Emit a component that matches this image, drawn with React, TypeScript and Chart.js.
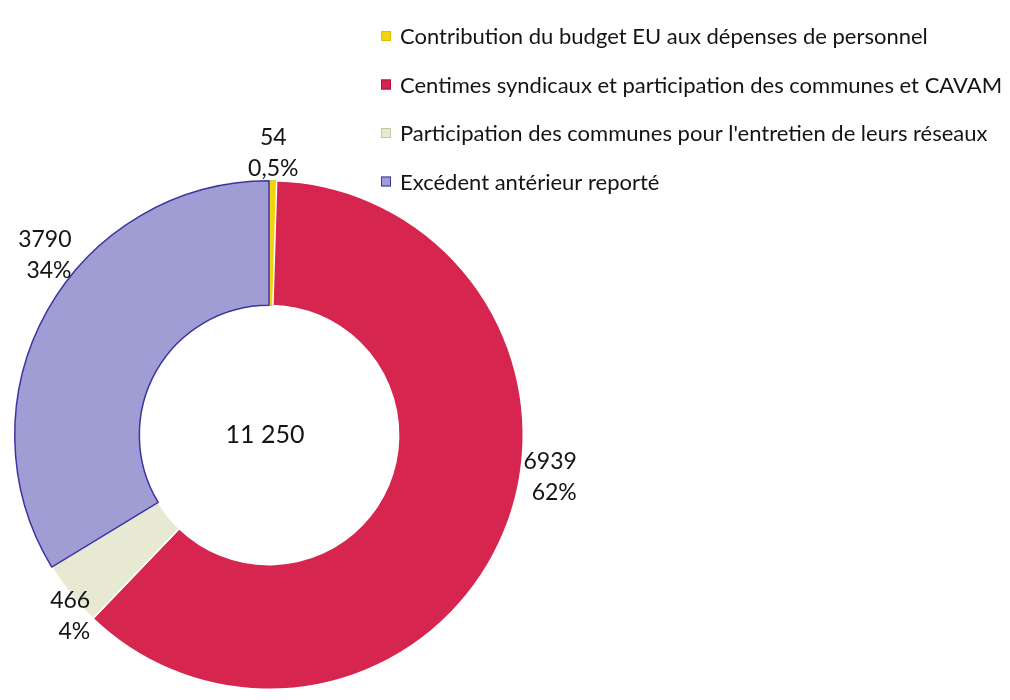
import React, { useEffect, useRef } from "react";
import { Chart, registerables } from "chart.js";

Chart.register(...registerables);

const categories = [
  "Contribution du budget EU aux dépenses de personnel",
  "Centimes syndicaux et participation des communes et CAVAM",
  "Participation des communes pour l'entretien de leurs réseaux",
  "Excédent antérieur reporté",
];
const values = [54, 6939, 466, 3790];
const percentLabels = ["0,5%", "62%", "4%", "34%"];
const totalLabel = "11 250";

const fillColors = ["#f3d40c", "#d6264f", "#e7e9d3", "#a09dd4"];
const borderColors = ["#e2bd00", "#ffffff", "#ffffff", "#3d33a3"];

// label placement: angle (deg, clockwise from top), distance beyond outer radius, alignment
const labelPlacement = [
  { angle: null as number | null, extra: 28, align: "center" },
  { angle: 98.5, extra: 30, align: "right" },
  { angle: 227.6, extra: 15, align: "right" },
  { angle: 308.7, extra: 33, align: "right" },
];

const FONT = "Lato, 'Open Sans', sans-serif";

const labelsPlugin = {
  id: "customLabels",
  afterDraw(chart: any) {
    const ctx = chart.ctx;
    const meta = chart.getDatasetMeta(0);
    ctx.save();
    ctx.fillStyle = "#141414";
    ctx.textBaseline = "middle";
    const lineH = 31;
    meta.data.forEach((arc: any, i: number) => {
      const p = labelPlacement[i];
      const mid = (arc.startAngle + arc.endAngle) / 2;
      const ang = p.angle === null ? mid : (p.angle - 90) * Math.PI / 180;
      const r = arc.outerRadius + p.extra;
      const cx = arc.x + Math.cos(ang) * r;
      const cy = arc.y + Math.sin(ang) * r;
      ctx.font = `23px ${FONT}`;
      const lines = [String(values[i]), percentLabels[i]];
      const maxW = Math.max(...lines.map((l) => ctx.measureText(l).width));
      lines.forEach((l, k) => {
        const y = cy + (k - 0.5) * lineH;
        if (p.align === "right") {
          ctx.textAlign = "right";
          ctx.fillText(l, cx + maxW / 2, y);
        } else {
          ctx.textAlign = "center";
          ctx.fillText(l, cx, y);
        }
      });
    });
    // center total
    const a0 = meta.data[0];
    ctx.font = `25px ${FONT}`;
    ctx.textAlign = "center";
    ctx.fillText(totalLabel, a0.x - 4, a0.y);

    // legend
    ctx.font = `22px ${FONT}`;
    ctx.textAlign = "left";
    categories.forEach((c, i) => {
      const y = 36 + i * 48.5;
      ctx.fillStyle = fillColors[i];
      ctx.fillRect(381, y - 5, 10, 10);
      ctx.strokeStyle = i === 2 ? "#c8c8a0" : borderColors[i] === "#ffffff" ? "#b0103a" : borderColors[i];
      ctx.lineWidth = 1;
      ctx.strokeRect(381.5, y - 4.5, 9, 9);
      ctx.fillStyle = "#141414";
      ctx.fillText(c, 400, y + 1);
    });
    ctx.restore();
  },
};

export default function App() {
  const ref = useRef<HTMLCanvasElement | null>(null);
  useEffect(() => {
    if (!ref.current) return;
    const chart = new Chart(ref.current, {
      type: "doughnut",
      data: {
        labels: categories,
        datasets: [
          {
            data: values,
            backgroundColor: fillColors,
            borderColor: borderColors,
            borderWidth: [1, 1.5, 1.5, 1.5],
          },
        ],
      },
      options: {
        animation: false,
        responsive: false,
        cutout: "51%",
        layout: { padding: { left: 14, top: 180, right: 486, bottom: 10 } },
        plugins: {
          legend: { display: false },
          tooltip: { enabled: false },
        },
      },
      plugins: [labelsPlugin],
    });
    return () => chart.destroy();
  }, []);
  return (
    <div style={{ position: "fixed", left: 0, top: 0, width: 1010, height: 700, background: "#fff" }}>
      <canvas ref={ref} width={1010} height={700} style={{ width: 1010, height: 700 }} />
    </div>
  );
}
